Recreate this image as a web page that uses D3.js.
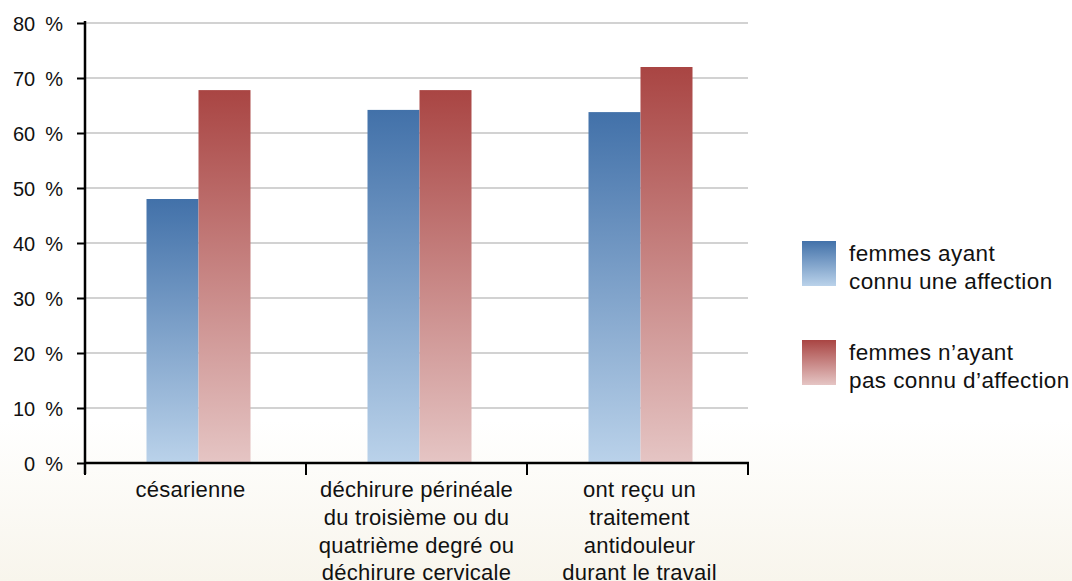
<html>
<head>
<script src="https://d3js.org/d3.v7.min.js"></script>
<style>
  body { margin: 0; background: linear-gradient(to bottom, #ffffff 0px, #ffffff 420px, #f8f5ec 581px); }
  svg text { font-family: "Liberation Sans", Arial, Helvetica, sans-serif; fill: #111; }
</style>
</head>
<body>
<svg id="chart" width="1072" height="581"></svg>
<script>
const categories = [
  "césarienne",
  "déchirure périnéale\ndu troisième ou du\nquatrième degré ou\ndéchirure cervicale",
  "ont reçu un\ntraitement\nantidouleur\ndurant le travail"
];
const seriesNames = ["femmes ayant\nconnu une affection", "femmes n’ayant\npas connu d’affection"];
const withAffection = [48, 64.2, 63.8];
const withoutAffection = [67.8, 67.8, 72];
const yTicks = [0, 10, 20, 30, 40, 50, 60, 70, 80];

const svg = d3.select("#chart");
const plotLeft = 85, plotRight = 748, plotTop = 23, plotBottom = 463;

const x = d3.scaleBand().domain(d3.range(categories.length)).range([plotLeft, plotRight]);
const y = d3.scaleLinear().domain([0, 80]).range([plotBottom, plotTop]);

const defs = svg.append("defs");
const grads = [["gBlue", "#4271a9", "#bad2ea"], ["gRed", "#a94543", "#e5c5c4"]];
grads.forEach(([id, c1, c2]) => {
  const g = defs.append("linearGradient").attr("id", id).attr("x1", 0).attr("y1", 0).attr("x2", 0).attr("y2", 1);
  g.append("stop").attr("offset", "0%").attr("stop-color", c1);
  g.append("stop").attr("offset", "100%").attr("stop-color", c2);
});

// grid
svg.append("g").selectAll("line").data(yTicks.slice(1)).join("line")
  .attr("x1", plotLeft).attr("x2", plotRight)
  .attr("y1", d => y(d)).attr("y2", d => y(d))
  .attr("stroke", "#d2d2d2").attr("stroke-width", 2);

// bars (slightly right of band centre, as in the original)
const barW = 52;
const series = [withAffection, withoutAffection];
series.forEach((vals, si) => {
  svg.append("g").selectAll("rect").data(vals).join("rect")
    .attr("x", (d, i) => x(i) + x.bandwidth() / 2 + 3 - barW + si * barW)
    .attr("width", barW)
    .attr("y", d => y(d))
    .attr("height", d => plotBottom - y(d))
    .attr("fill", si === 0 ? "url(#gBlue)" : "url(#gRed)");
});

// y axis
const yAxis = svg.append("g").attr("transform", `translate(${plotLeft},0)`)
  .call(d3.axisLeft(y).tickValues(yTicks).tickSize(8).tickPadding(14).tickFormat(d => d + "\u2002%"));
yAxis.select(".domain").attr("stroke", "#000").attr("stroke-width", 2.5).attr("d", `M0,${plotTop - 2}V${plotBottom + 11}`);
yAxis.selectAll(".tick line").attr("stroke", "#000").attr("stroke-width", 2);
yAxis.selectAll("text").attr("font-size", 20).attr("dy", "0.36em");

// x axis
const xAxis = svg.append("g");
xAxis.append("line").attr("x1", plotLeft).attr("x2", plotRight + 1).attr("y1", plotBottom).attr("y2", plotBottom)
  .attr("stroke", "#000").attr("stroke-width", 2.5);
const bounds = d3.range(categories.length + 1).map(i => i < categories.length ? x(i) : plotRight);
xAxis.selectAll("line.tk").data(bounds).join("line").attr("class", "tk")
  .attr("x1", d => d).attr("x2", d => d).attr("y1", plotBottom).attr("y2", plotBottom + 12)
  .attr("stroke", "#000").attr("stroke-width", 2);
const labelNudge = [-5, 0, 2];
xAxis.selectAll("text").data(categories).join("text")
  .attr("text-anchor", "middle").attr("font-size", 22).attr("letter-spacing", 0.25)
  .selectAll("tspan").data((d, i) => d.split("\n").map(t => ({ t, i })))
  .join("tspan")
  .attr("x", d => x(d.i) + x.bandwidth() / 2 + labelNudge[d.i])
  .attr("y", (d, j) => 497 + j * 27.8)
  .text(d => d.t);

// legend
const legendY = [241, 340];
const legend = svg.append("g");
seriesNames.forEach((name, i) => {
  legend.append("rect").attr("x", 802).attr("y", legendY[i]).attr("width", 34).attr("height", 45)
    .attr("fill", i === 0 ? "url(#gBlue)" : "url(#gRed)");
  legend.append("text").attr("font-size", 22.5).attr("letter-spacing", 0.4)
    .selectAll("tspan").data(name.split("\n")).join("tspan")
    .attr("x", 849).attr("y", (d, j) => legendY[i] + 20 + j * 28)
    .text(d => d);
});
</script>
</body>
</html>
